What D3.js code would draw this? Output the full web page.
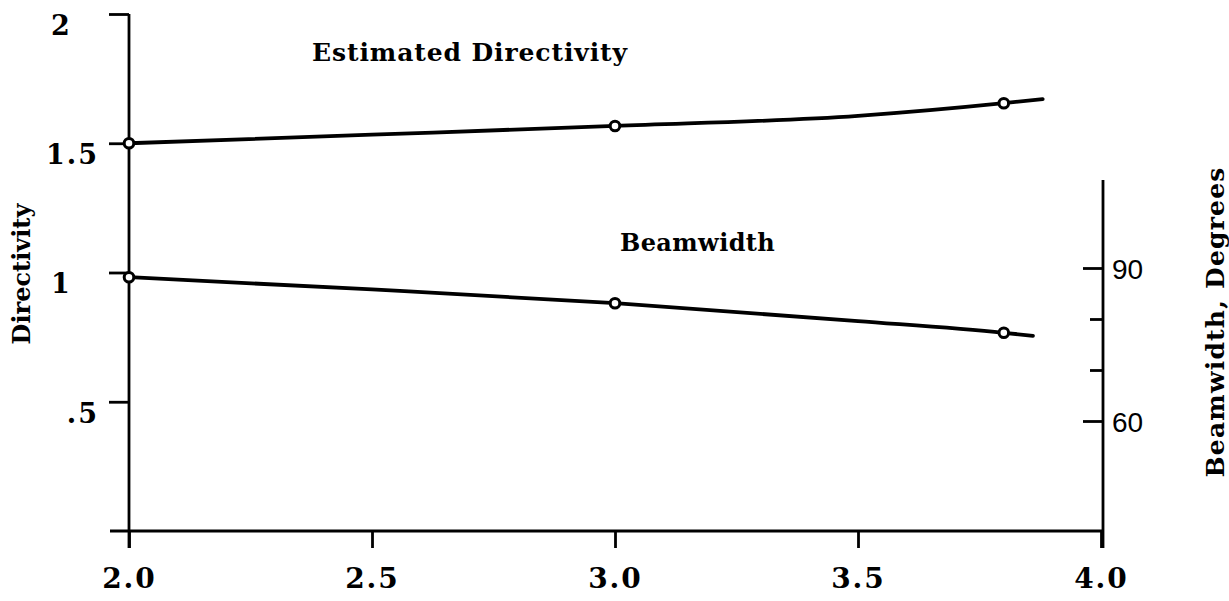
<!DOCTYPE html>
<html>
<head>
<meta charset="utf-8">
<script src="https://cdn.jsdelivr.net/npm/d3@7"></script>
<style>
  html, body { margin: 0; padding: 0; background: #fff; }
  svg { display: block; }
</style>
</head>
<body>
<svg id="chart" width="1229" height="601"></svg>
<script>
// ---- data ----
const xTicks = [2.0, 2.5, 3.0, 3.5, 4.0];
const xTickLabels = ["2.0", "2.5", "3.0", "3.5", "4.0"];
const leftTicks = [2, 1.5, 1, 0.5];
const leftTickLabels = ["2", "1.5", "1", ".5"];
const rightTicks = [90, 80, 70, 60];
const rightTickLabels = ["90", "", "", "60"];

// measured points (circle markers)
const markerX = [2.0, 3.0, 3.8];
const directivityMarkers = [1.50, 1.567, 1.655];
const beamwidthMarkers = [88.2, 83.1, 77.3];

// curve trace
const dirCurveX = [2.0, 2.5, 3.0, 3.5, 3.8, 3.88];
const dirCurveY = [1.50, 1.533, 1.567, 1.606, 1.655, 1.671];
const beamCurveX = [2.0, 2.5, 3.0, 3.5, 3.8, 3.86];
const beamCurveY = [88.2, 85.8, 83.1, 79.6, 77.3, 76.7];

// ---- drawing ----
const svg = d3.select("#chart");
const serif = "'DejaVu Serif', 'Liberation Serif', serif";
const sans = "'Liberation Sans', Arial, sans-serif";
const ink = "#000";

const x = d3.scaleLinear().domain([2, 4]).range([129, 1101]);
const yL = d3.scaleLinear().domain([0, 2]).range([531, 14]);
const yR = d3.scaleLinear().domain([60, 90]).range([421, 268]);

const axisW = 2.8;

// left axis line (extends below the x axis)
svg.append("line")
  .attr("x1", x(2)).attr("x2", x(2))
  .attr("y1", yL(2)).attr("y2", yL(0) + 17)
  .attr("stroke", ink).attr("stroke-width", axisW);

// x axis line (extends left of left axis)
svg.append("line")
  .attr("x1", x(2) - 19).attr("x2", x(4) + 2)
  .attr("y1", yL(0)).attr("y2", yL(0))
  .attr("stroke", ink).attr("stroke-width", axisW);

// right axis line
svg.append("line")
  .attr("x1", x(4) + 2).attr("x2", x(4) + 2)
  .attr("y1", 180).attr("y2", yL(0) + 17)
  .attr("stroke", ink).attr("stroke-width", axisW);

// left axis ticks via d3.axisLeft
const gL = svg.append("g").attr("transform", `translate(${x(2)},0)`)
  .call(d3.axisLeft(yL).tickValues(leftTicks).tickSize(20).tickSizeOuter(0)
    .tickFormat((d, i) => leftTickLabels[i]));
gL.select(".domain").remove();
gL.selectAll(".tick line").attr("stroke", ink).attr("stroke-width", axisW);
gL.selectAll(".tick text")
  .attr("font-family", serif).attr("font-weight", "bold").attr("font-size", 27)
  .attr("fill", ink)
  .attr("dy", "0.75em")
  .attr("letter-spacing", 2)
  .attr("text-anchor", d => Number.isInteger(d) ? "start" : "end")
  .attr("x", d => Number.isInteger(d) ? -78 : -30);

// x axis ticks
const gX = svg.append("g").attr("transform", `translate(0,${yL(0)})`)
  .call(d3.axisBottom(x).tickValues(xTicks).tickSize(17).tickSizeOuter(0)
    .tickFormat((d, i) => xTickLabels[i]));
gX.select(".domain").remove();
gX.selectAll(".tick line").attr("stroke", ink).attr("stroke-width", axisW);
gX.selectAll(".tick text")
  .attr("font-family", serif).attr("font-weight", "bold").attr("font-size", 28)
  .attr("fill", ink).attr("y", 37).attr("dy", "0.71em")
  .attr("letter-spacing", 2);

// right axis ticks
const gR = svg.append("g").attr("transform", `translate(${x(4) + 2},0)`)
  .call(d3.axisLeft(yR).tickValues(rightTicks).tickSizeOuter(0)
    .tickFormat((d, i) => rightTickLabels[i]));
gR.select(".domain").remove();
gR.selectAll(".tick line")
  .attr("stroke", ink).attr("stroke-width", axisW)
  .attr("x2", (d, i) => rightTickLabels[i] ? -20 : -13);
gR.selectAll(".tick text")
  .attr("font-family", sans).attr("font-size", 28).attr("fill", ink)
  .attr("text-anchor", "start").attr("x", 9).attr("dy", "0.36em");

// curves
const lineL = d3.line().x(d => x(d[0])).y(d => yL(d[1])).curve(d3.curveMonotoneX);
const lineR = d3.line().x(d => x(d[0])).y(d => yR(d[1])).curve(d3.curveMonotoneX);

svg.append("path")
  .datum(dirCurveX.map((v, i) => [v, dirCurveY[i]]))
  .attr("d", lineL).attr("fill", "none").attr("stroke", ink)
  .attr("stroke-width", 3.8).attr("stroke-linecap", "round");

svg.append("path")
  .datum(beamCurveX.map((v, i) => [v, beamCurveY[i]]))
  .attr("d", lineR).attr("fill", "none").attr("stroke", ink)
  .attr("stroke-width", 3.8).attr("stroke-linecap", "round");

// markers
svg.selectAll("circle.dir").data(markerX).join("circle")
  .attr("class", "dir")
  .attr("cx", d => x(d)).attr("cy", (d, i) => yL(directivityMarkers[i]))
  .attr("r", 4.8).attr("fill", "#fff").attr("stroke", ink).attr("stroke-width", 3);

svg.selectAll("circle.beam").data(markerX).join("circle")
  .attr("class", "beam")
  .attr("cx", d => x(d)).attr("cy", (d, i) => yR(beamwidthMarkers[i]))
  .attr("r", 4.8).attr("fill", "#fff").attr("stroke", ink).attr("stroke-width", 3);

// annotations
svg.append("text")
  .attr("x", 312).attr("y", 61)
  .attr("font-family", serif).attr("font-weight", "bold").attr("font-size", 25)
  .attr("letter-spacing", 0.9)
  .attr("fill", ink).text("Estimated Directivity");

svg.append("text")
  .attr("x", 620).attr("y", 251)
  .attr("font-family", serif).attr("font-weight", "bold").attr("font-size", 24)
  .attr("letter-spacing", 0.4)
  .attr("fill", ink).text("Beamwidth");

// axis titles
svg.append("text")
  .attr("transform", "translate(30,274) rotate(-90)")
  .attr("text-anchor", "middle")
  .attr("font-family", serif).attr("font-weight", "bold").attr("font-size", 24)
  .attr("fill", ink).text("Directivity");

svg.append("text")
  .attr("transform", "translate(1224,322) rotate(-90)")
  .attr("text-anchor", "middle")
  .attr("font-family", serif).attr("font-weight", "bold").attr("font-size", 25)
  .attr("letter-spacing", 1.2)
  .attr("fill", ink).text("Beamwidth,  Degrees");
</script>
</body>
</html>
